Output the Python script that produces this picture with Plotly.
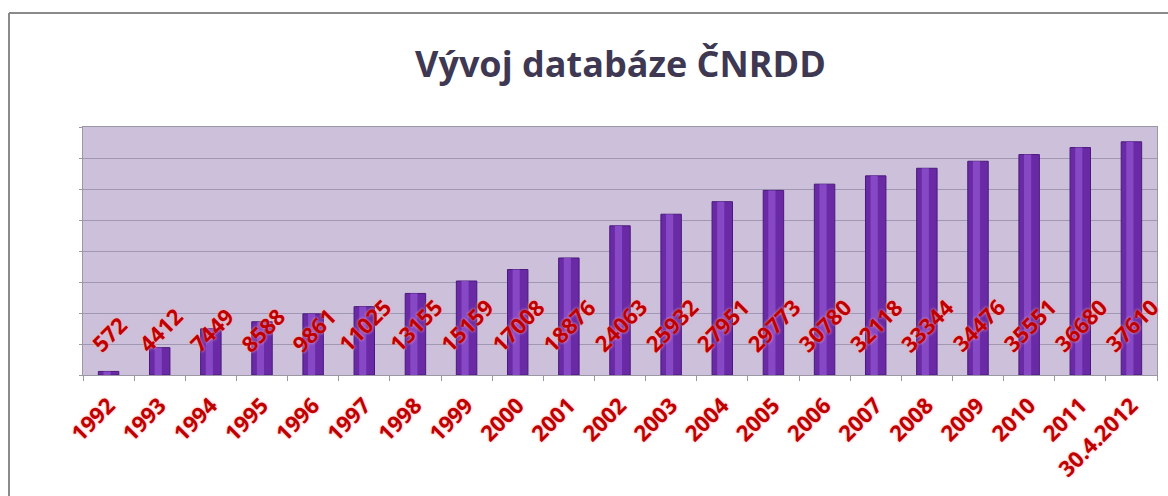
import plotly.graph_objects as go

categories = ["1992", "1993", "1994", "1995", "1996", "1997", "1998", "1999", "2000", "2001",
              "2002", "2003", "2004", "2005", "2006", "2007", "2008", "2009", "2010", "2011",
              "30.4.2012"]
values = [572, 4412, 7449, 8588, 9861, 11025, 13155, 15159, 17008, 18876,
          24063, 25932, 27951, 29773, 30780, 32118, 33344, 34476, 35551, 36680, 37610]
title_text = "Vývoj databáze ČNRDD"

W, H = 1168, 496
L, R, T, B = 83, 1157, 127, 375  # plot area in pixels
pw, ph = R - L, B - T

def px_x(p):
    return (p - L) / pw

def px_y(p):
    return (B - p) / ph

LABEL_RED = "#C00000"
FONT = "Open Sans"
GLOW = "0px 0px 3px #FFA8A8"

fig = go.Figure()
fig.add_trace(go.Bar(
    x=categories, y=values, width=0.4,
    marker=dict(color="#6A2AA6", line=dict(color="#4A1A7A", width=1)),
    showlegend=False,
))
fig.add_trace(go.Bar(
    x=categories, y=values, width=0.14, offset=-0.1,
    marker=dict(color="#8748C6", line=dict(width=0)),
    hoverinfo="skip", showlegend=False,
))

annotations = []
for i, v in enumerate(values):
    annotations.append(dict(
        x=i, y=2300, xref="x", yref="y", text=f"<b>{v}</b>", showarrow=False,
        textangle=-45, xanchor="center", yanchor="bottom",
        font=dict(family=FONT, size=22, color=LABEL_RED, shadow=GLOW),
    ))
annotations.append(dict(
    x=0.5, y=px_y(63), xref="paper", yref="paper", text=f"<b>{title_text}</b>", showarrow=False,
    xanchor="center", yanchor="middle",
    font=dict(family=FONT, size=36, color="#3E3852"),
))

shapes = [
    dict(type="line", xref="paper", yref="paper", x0=px_x(9), x1=px_x(1175),
         y0=px_y(13), y1=px_y(13), line=dict(color="#8A8A8A", width=2)),
    dict(type="line", xref="paper", yref="paper", x0=px_x(9), x1=px_x(9),
         y0=px_y(13), y1=px_y(505), line=dict(color="#8A8A8A", width=2)),
]

fig.update_layout(
    width=W, height=H,
    margin=dict(l=L, r=W - R, t=T, b=H - B, pad=0, autoexpand=False),
    paper_bgcolor="white", plot_bgcolor="#CCC0DB",
    barmode="overlay",
    annotations=annotations, shapes=shapes,
    showlegend=False,
)
fig.update_xaxes(
    type="category", range=[-0.5, len(categories) - 0.5],
    tickangle=-45, ticks="outside", ticklen=5, tickcolor="#9C98A3",
    tickson="boundaries", ticklabelstandoff=8,
    showline=True, linecolor="#9C98A3", linewidth=1, mirror=True,
    tickfont=dict(family=FONT, size=22, color=LABEL_RED, shadow=GLOW),
    tickvals=categories, ticktext=[f"<b>{c}</b>" for c in categories],
    showgrid=False, zeroline=False,
)
fig.update_yaxes(
    range=[0, 40000], dtick=5000, showticklabels=False, ticks="outside", ticklen=3,
    tickcolor="#9C98A3", showline=True, linecolor="#9C98A3", linewidth=1, mirror=True,
    showgrid=True, gridcolor="#A098B2", gridwidth=1, zeroline=False,
)

fig.write_html("out.html", config={"displayModeBar": False},
               post_script="document.body.style.margin='0';")
